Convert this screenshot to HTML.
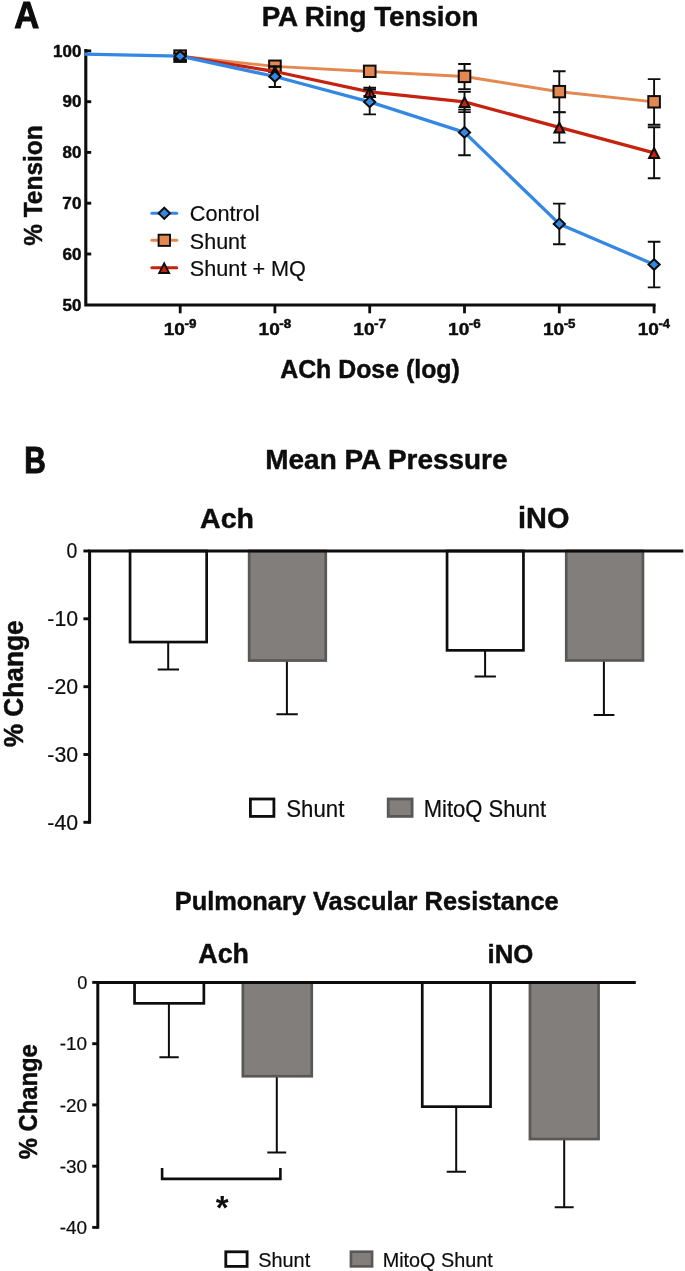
<!DOCTYPE html><html><head><meta charset="utf-8"><style>html,body{margin:0;padding:0;background:#fff}</style></head><body><svg width="685" height="1271" viewBox="0 0 685 1271" style="display:block;will-change:transform">
<rect width="685" height="1271" fill="#fff"/>
<g font-family="Liberation Sans, sans-serif" fill="#0d0d0d">
<text x="14.13" y="27.65" font-size="36.60" font-weight="bold" stroke="#0d0d0d" stroke-width="1.05" textLength="25.01" lengthAdjust="spacingAndGlyphs">A</text>
<text x="261.63" y="25.50" font-size="27.75" font-weight="bold" stroke="#0d0d0d" stroke-width="0.45" textLength="216.83" lengthAdjust="spacingAndGlyphs">PA Ring Tension</text>
<path d="M85.8 49.1 V305 H655.6" fill="none" stroke="#0d0d0d" stroke-width="3.1" stroke-linejoin="miter"/>
<path d="M85.8 50.9 H91.2" stroke="#0d0d0d" stroke-width="2.9"/>
<path d="M85.8 101.7 H91.2" stroke="#0d0d0d" stroke-width="2.9"/>
<path d="M85.8 152.4 H91.2" stroke="#0d0d0d" stroke-width="2.9"/>
<path d="M85.8 203.2 H91.2" stroke="#0d0d0d" stroke-width="2.9"/>
<path d="M85.8 254.0 H91.2" stroke="#0d0d0d" stroke-width="2.9"/>
<text x="53.14" y="56.60" font-size="16.30" font-weight="bold" stroke="#0d0d0d" stroke-width="0.45" textLength="28.25" lengthAdjust="spacingAndGlyphs">100</text>
<text x="62.50" y="107.40" font-size="16.30" font-weight="bold" stroke="#0d0d0d" stroke-width="0.45" textLength="18.92" lengthAdjust="spacingAndGlyphs">90</text>
<text x="62.55" y="158.20" font-size="16.30" font-weight="bold" stroke="#0d0d0d" stroke-width="0.45" textLength="18.87" lengthAdjust="spacingAndGlyphs">80</text>
<text x="62.37" y="209.00" font-size="16.30" font-weight="bold" stroke="#0d0d0d" stroke-width="0.45" textLength="19.05" lengthAdjust="spacingAndGlyphs">70</text>
<text x="62.46" y="259.80" font-size="16.30" font-weight="bold" stroke="#0d0d0d" stroke-width="0.45" textLength="18.96" lengthAdjust="spacingAndGlyphs">60</text>
<text x="62.59" y="310.60" font-size="16.30" font-weight="bold" stroke="#0d0d0d" stroke-width="0.45" textLength="18.82" lengthAdjust="spacingAndGlyphs">50</text>
<path d="M180.2 305 V313.3" stroke="#0d0d0d" stroke-width="2.8"/>
<text x="163.76" y="335.20" font-size="17.20" font-weight="bold" stroke="#0d0d0d" stroke-width="0.45" textLength="21.20" lengthAdjust="spacingAndGlyphs">10</text>
<text x="184.51" y="328.40" font-size="12.00" font-weight="bold" stroke="#0d0d0d" stroke-width="0.45" textLength="11.93" lengthAdjust="spacingAndGlyphs">-9</text>
<path d="M274.9 305 V313.3" stroke="#0d0d0d" stroke-width="2.8"/>
<text x="258.55" y="335.20" font-size="17.20" font-weight="bold" stroke="#0d0d0d" stroke-width="0.45" textLength="21.20" lengthAdjust="spacingAndGlyphs">10</text>
<text x="279.31" y="328.40" font-size="12.00" font-weight="bold" stroke="#0d0d0d" stroke-width="0.45" textLength="11.86" lengthAdjust="spacingAndGlyphs">-8</text>
<path d="M369.7 305 V313.3" stroke="#0d0d0d" stroke-width="2.8"/>
<text x="353.34" y="335.20" font-size="17.20" font-weight="bold" stroke="#0d0d0d" stroke-width="0.45" textLength="21.20" lengthAdjust="spacingAndGlyphs">10</text>
<text x="374.09" y="328.40" font-size="12.00" font-weight="bold" stroke="#0d0d0d" stroke-width="0.45" textLength="12.04" lengthAdjust="spacingAndGlyphs">-7</text>
<path d="M464.5 305 V313.3" stroke="#0d0d0d" stroke-width="2.8"/>
<text x="448.13" y="335.20" font-size="17.20" font-weight="bold" stroke="#0d0d0d" stroke-width="0.45" textLength="21.20" lengthAdjust="spacingAndGlyphs">10</text>
<text x="468.88" y="328.40" font-size="12.00" font-weight="bold" stroke="#0d0d0d" stroke-width="0.45" textLength="11.93" lengthAdjust="spacingAndGlyphs">-6</text>
<path d="M559.3 305 V313.3" stroke="#0d0d0d" stroke-width="2.8"/>
<text x="542.92" y="335.20" font-size="17.20" font-weight="bold" stroke="#0d0d0d" stroke-width="0.45" textLength="21.20" lengthAdjust="spacingAndGlyphs">10</text>
<text x="563.68" y="328.40" font-size="12.00" font-weight="bold" stroke="#0d0d0d" stroke-width="0.45" textLength="11.82" lengthAdjust="spacingAndGlyphs">-5</text>
<path d="M654.1 305 V313.3" stroke="#0d0d0d" stroke-width="2.8"/>
<text x="637.71" y="335.20" font-size="17.20" font-weight="bold" stroke="#0d0d0d" stroke-width="0.45" textLength="21.20" lengthAdjust="spacingAndGlyphs">10</text>
<text x="658.48" y="328.40" font-size="12.00" font-weight="bold" stroke="#0d0d0d" stroke-width="0.45" textLength="11.50" lengthAdjust="spacingAndGlyphs">-4</text>
<text transform="translate(42.00,245.20) rotate(-90)" x="-0.61" y="0" font-size="25.60" font-weight="bold" stroke="#0d0d0d" stroke-width="0.45" textLength="120.51" lengthAdjust="spacingAndGlyphs">% Tension</text>
<text x="280.18" y="378.30" font-size="24.88" font-weight="bold" stroke="#0d0d0d" stroke-width="0.45" textLength="179.65" lengthAdjust="spacingAndGlyphs">ACh Dose (log)</text>
<path d="M180.2 53.7 V58.8 M173.8 53.7 h12.6 M173.8 58.8 h12.6" stroke="#0d0d0d" stroke-width="1.9" fill="none"/>
<path d="M274.9 61.8 V71.0 M268.6 61.8 h12.6 M268.6 71.0 h12.6" stroke="#0d0d0d" stroke-width="1.9" fill="none"/>
<path d="M369.7 67.4 V75.5 M363.4 67.4 h12.6 M363.4 75.5 h12.6" stroke="#0d0d0d" stroke-width="1.9" fill="none"/>
<path d="M464.5 64.0 V89.1 M458.2 64.0 h12.6 M458.2 89.1 h12.6" stroke="#0d0d0d" stroke-width="1.9" fill="none"/>
<path d="M559.3 71.2 V112.4 M553.0 71.2 h12.6 M553.0 112.4 h12.6" stroke="#0d0d0d" stroke-width="1.9" fill="none"/>
<path d="M654.1 79.1 V124.8 M647.8 79.1 h12.6 M647.8 124.8 h12.6" stroke="#0d0d0d" stroke-width="1.9" fill="none"/>
<path d="M180.2 56.2 L180.2 56.2 L274.9 66.4 L369.7 71.5 L464.5 76.5 L559.3 91.8 L654.1 101.9" fill="none" stroke="#e38850" stroke-width="2.9" stroke-linejoin="round"/>
<rect x="174.35" y="50.38" width="11.6" height="11.4" fill="#e38850" stroke="#0d0d0d" stroke-width="2.0"/>
<rect x="269.14" y="60.54" width="11.6" height="11.4" fill="#e38850" stroke="#0d0d0d" stroke-width="2.0"/>
<rect x="363.93" y="65.62" width="11.6" height="11.4" fill="#e38850" stroke="#0d0d0d" stroke-width="2.0"/>
<rect x="458.72" y="70.70" width="11.6" height="11.4" fill="#e38850" stroke="#0d0d0d" stroke-width="2.0"/>
<rect x="553.51" y="85.94" width="11.6" height="11.4" fill="#e38850" stroke="#0d0d0d" stroke-width="2.0"/>
<rect x="648.30" y="96.10" width="11.6" height="11.4" fill="#e38850" stroke="#0d0d0d" stroke-width="2.0"/>
<path d="M180.2 53.7 V58.8 M173.8 53.7 h12.6 M173.8 58.8 h12.6" stroke="#0d0d0d" stroke-width="1.9" fill="none"/>
<path d="M274.9 66.9 V76.0 M268.6 66.9 h12.6 M268.6 76.0 h12.6" stroke="#0d0d0d" stroke-width="1.9" fill="none"/>
<path d="M369.7 87.7 V95.9 M363.4 87.7 h12.6 M363.4 95.9 h12.6" stroke="#0d0d0d" stroke-width="1.9" fill="none"/>
<path d="M464.5 91.8 V112.1 M458.2 91.8 h12.6 M458.2 112.1 h12.6" stroke="#0d0d0d" stroke-width="1.9" fill="none"/>
<path d="M559.3 112.1 V142.6 M553.0 112.1 h12.6 M553.0 142.6 h12.6" stroke="#0d0d0d" stroke-width="1.9" fill="none"/>
<path d="M654.1 127.3 V178.2 M647.8 127.3 h12.6 M647.8 178.2 h12.6" stroke="#0d0d0d" stroke-width="1.9" fill="none"/>
<path d="M180.2 56.2 L180.2 56.2 L274.9 71.5 L369.7 91.8 L464.5 101.9 L559.3 127.3 L654.1 152.8" fill="none" stroke="#c5230f" stroke-width="3.3" stroke-linejoin="round"/>
<path d="M180.2 51.7 L185.1 61.4 H175.2 Z" fill="#c5230f" stroke="#0d0d0d" stroke-width="2.0" stroke-linejoin="miter"/>
<path d="M274.9 67.0 L279.9 76.6 H270.0 Z" fill="#c5230f" stroke="#0d0d0d" stroke-width="2.0" stroke-linejoin="miter"/>
<path d="M369.7 87.3 L374.7 96.9 H364.8 Z" fill="#c5230f" stroke="#0d0d0d" stroke-width="2.0" stroke-linejoin="miter"/>
<path d="M464.5 97.4 L469.5 107.1 H459.6 Z" fill="#c5230f" stroke="#0d0d0d" stroke-width="2.0" stroke-linejoin="miter"/>
<path d="M559.3 122.8 L564.3 132.5 H554.4 Z" fill="#c5230f" stroke="#0d0d0d" stroke-width="2.0" stroke-linejoin="miter"/>
<path d="M654.1 148.2 L659.1 157.9 H649.1 Z" fill="#c5230f" stroke="#0d0d0d" stroke-width="2.0" stroke-linejoin="miter"/>
<path d="M180.2 53.7 V58.8 M173.8 53.7 h12.6 M173.8 58.8 h12.6" stroke="#0d0d0d" stroke-width="1.9" fill="none"/>
<path d="M274.9 66.1 V87.0 M268.6 66.1 h12.6 M268.6 87.0 h12.6" stroke="#0d0d0d" stroke-width="1.9" fill="none"/>
<path d="M369.7 89.5 V114.4 M363.4 89.5 h12.6 M363.4 114.4 h12.6" stroke="#0d0d0d" stroke-width="1.9" fill="none"/>
<path d="M464.5 109.6 V155.3 M458.2 109.6 h12.6 M458.2 155.3 h12.6" stroke="#0d0d0d" stroke-width="1.9" fill="none"/>
<path d="M559.3 203.6 V244.2 M553.0 203.6 h12.6 M553.0 244.2 h12.6" stroke="#0d0d0d" stroke-width="1.9" fill="none"/>
<path d="M654.1 241.7 V287.4 M647.8 241.7 h12.6 M647.8 287.4 h12.6" stroke="#0d0d0d" stroke-width="1.9" fill="none"/>
<path d="M84.2 54.2 L180.2 56.2 L274.9 76.5 L369.7 101.9 L464.5 132.4 L559.3 223.9 L654.1 264.5" fill="none" stroke="#3488e3" stroke-width="3.3" stroke-linejoin="round"/>
<path d="M180.2 50.9 L185.8 56.2 L180.2 61.5 L174.6 56.2 Z" fill="#3488e3" stroke="#0d0d0d" stroke-width="2.0"/>
<path d="M274.9 71.2 L280.5 76.5 L274.9 81.8 L269.3 76.5 Z" fill="#3488e3" stroke="#0d0d0d" stroke-width="2.0"/>
<path d="M369.7 96.6 L375.3 101.9 L369.7 107.2 L364.1 101.9 Z" fill="#3488e3" stroke="#0d0d0d" stroke-width="2.0"/>
<path d="M464.5 127.1 L470.1 132.4 L464.5 137.7 L458.9 132.4 Z" fill="#3488e3" stroke="#0d0d0d" stroke-width="2.0"/>
<path d="M559.3 218.6 L564.9 223.9 L559.3 229.2 L553.7 223.9 Z" fill="#3488e3" stroke="#0d0d0d" stroke-width="2.0"/>
<path d="M654.1 259.2 L659.7 264.5 L654.1 269.8 L648.5 264.5 Z" fill="#3488e3" stroke="#0d0d0d" stroke-width="2.0"/>
<path d="M151.9 213.3 H176.7" stroke="#3488e3" stroke-width="3.1" stroke-linecap="round"/>
<path d="M164.3 207.70000000000002 L170.0 213.3 L164.3 218.9 L158.60000000000002 213.3 Z" fill="#3488e3" stroke="#0d0d0d" stroke-width="1.9"/>
<text x="189.72" y="221.45" font-size="22.50" stroke="#0d0d0d" stroke-width="0.20" textLength="69.92" lengthAdjust="spacingAndGlyphs">Control</text>
<path d="M151.9 240.3 H176.7" stroke="#e38850" stroke-width="3.1" stroke-linecap="round"/>
<rect x="158.60000000000002" y="234.70000000000002" width="11.4" height="11.2" fill="#e38850" stroke="#0d0d0d" stroke-width="1.9"/>
<text x="189.83" y="248.55" font-size="22.50" stroke="#0d0d0d" stroke-width="0.20" textLength="56.25" lengthAdjust="spacingAndGlyphs">Shunt</text>
<path d="M151.9 267.7 H176.7" stroke="#c5230f" stroke-width="3.1" stroke-linecap="round"/>
<path d="M164.20000000000002 263.35 L169.15 273.00 H159.25 Z" fill="#c5230f" stroke="#0d0d0d" stroke-width="1.9"/>
<text x="189.83" y="275.85" font-size="22.50" stroke="#0d0d0d" stroke-width="0.20" textLength="116.13" lengthAdjust="spacingAndGlyphs">Shunt + MQ</text>
<text x="24.19" y="473.10" font-size="36.90" font-weight="bold" stroke="#0d0d0d" stroke-width="1.05" textLength="21.55" lengthAdjust="spacingAndGlyphs">B</text>
<text x="265.31" y="468.80" font-size="27.93" font-weight="bold" stroke="#0d0d0d" stroke-width="0.45" textLength="242.21" lengthAdjust="spacingAndGlyphs">Mean PA Pressure</text>
<text x="200.09" y="527.70" font-size="28.52" font-weight="bold" stroke="#0d0d0d" stroke-width="0.45" textLength="53.87" lengthAdjust="spacingAndGlyphs">Ach</text>
<text x="518.08" y="527.70" font-size="28.89" font-weight="bold" stroke="#0d0d0d" stroke-width="0.45" textLength="51.36" lengthAdjust="spacingAndGlyphs">iNO</text>
<path d="M168.2 642.4 V669.6 M157.7 669.6 H179.0" stroke="#0d0d0d" stroke-width="2.0" fill="none"/>
<rect x="130.05" y="551.0" width="76.60" height="91.05" fill="#fff" stroke="#0d0d0d" stroke-width="2.7"/>
<path d="M286.9 660.9 V714.2 M276.4 714.2 H297.8" stroke="#0d0d0d" stroke-width="2.0" fill="none"/>
<rect x="249.15" y="551.0" width="76.60" height="109.55" fill="#827e7b" stroke="#5a5857" stroke-width="2.7"/>
<path d="M485.1 650.7 V676.6 M474.6 676.6 H495.9" stroke="#0d0d0d" stroke-width="2.0" fill="none"/>
<rect x="447.05" y="551.0" width="76.40" height="99.35" fill="#fff" stroke="#0d0d0d" stroke-width="2.7"/>
<path d="M603.9 660.8 V715.0 M593.7 715.0 H614.4" stroke="#0d0d0d" stroke-width="2.0" fill="none"/>
<rect x="566.25" y="551.0" width="76.70" height="109.45" fill="#827e7b" stroke="#5a5857" stroke-width="2.7"/>
<path d="M89.6 823.7 V551.0 H683.3" fill="none" stroke="#0d0d0d" stroke-width="3.0"/>
<path d="M83.39999999999999 551.0 H89.6" stroke="#0d0d0d" stroke-width="2.9"/>
<path d="M83.39999999999999 618.8 H89.6" stroke="#0d0d0d" stroke-width="2.9"/>
<path d="M83.39999999999999 686.7 H89.6" stroke="#0d0d0d" stroke-width="2.9"/>
<path d="M83.39999999999999 754.5 H89.6" stroke="#0d0d0d" stroke-width="2.9"/>
<path d="M83.39999999999999 822.3 H89.6" stroke="#0d0d0d" stroke-width="2.9"/>
<text x="66.62" y="558.30" font-size="21.40" stroke="#0d0d0d" stroke-width="0.20" textLength="10.83" lengthAdjust="spacingAndGlyphs">0</text>
<text x="47.34" y="626.13" font-size="21.40" stroke="#0d0d0d" stroke-width="0.20" textLength="30.76" lengthAdjust="spacingAndGlyphs">-10</text>
<text x="47.34" y="693.96" font-size="21.40" stroke="#0d0d0d" stroke-width="0.20" textLength="30.76" lengthAdjust="spacingAndGlyphs">-20</text>
<text x="47.34" y="761.79" font-size="21.40" stroke="#0d0d0d" stroke-width="0.20" textLength="30.76" lengthAdjust="spacingAndGlyphs">-30</text>
<text x="47.34" y="829.62" font-size="21.40" stroke="#0d0d0d" stroke-width="0.20" textLength="30.76" lengthAdjust="spacingAndGlyphs">-40</text>
<text transform="translate(22.60,746.70) rotate(-90)" x="-0.66" y="0" font-size="27.20" font-weight="bold" stroke="#0d0d0d" stroke-width="0.45" textLength="127.05" lengthAdjust="spacingAndGlyphs">% Change</text>
<rect x="250.4" y="799.0" width="23.5" height="17.4" fill="#fff" stroke="#0d0d0d" stroke-width="2.8"/>
<text x="286.30" y="816.50" font-size="23.40" stroke="#0d0d0d" stroke-width="0.20" textLength="58.09" lengthAdjust="spacingAndGlyphs">Shunt</text>
<rect x="388.2" y="799.0" width="23.9" height="17.4" fill="#827e7b" stroke="#5a5857" stroke-width="2.8"/>
<text x="423.78" y="816.50" font-size="23.40" stroke="#0d0d0d" stroke-width="0.20" textLength="122.40" lengthAdjust="spacingAndGlyphs">MitoQ Shunt</text>
<text x="174.69" y="909.80" font-size="25.40" font-weight="bold" stroke="#0d0d0d" stroke-width="0.45" textLength="383.98" lengthAdjust="spacingAndGlyphs">Pulmonary Vascular Resistance</text>
<text x="198.33" y="962.50" font-size="26.80" font-weight="bold" stroke="#0d0d0d" stroke-width="0.45" textLength="50.62" lengthAdjust="spacingAndGlyphs">Ach</text>
<text x="487.50" y="962.50" font-size="25.77" font-weight="bold" stroke="#0d0d0d" stroke-width="0.45" textLength="45.81" lengthAdjust="spacingAndGlyphs">iNO</text>
<path d="M168.9 1003.7 V1057.2 M159.4 1057.2 H178.7" stroke="#0d0d0d" stroke-width="2.0" fill="none"/>
<rect x="134.55" y="982.4" width="69.30" height="20.95" fill="#fff" stroke="#0d0d0d" stroke-width="2.7"/>
<path d="M276.8 1076.6 V1152.6 M267.3 1152.6 H286.2" stroke="#0d0d0d" stroke-width="2.0" fill="none"/>
<rect x="242.85" y="982.4" width="68.90" height="93.85" fill="#827e7b" stroke="#5a5857" stroke-width="2.7"/>
<path d="M456.2 1107.0 V1171.8 M446.7 1171.8 H466.0" stroke="#0d0d0d" stroke-width="2.0" fill="none"/>
<rect x="422.25" y="982.4" width="68.30" height="124.25" fill="#fff" stroke="#0d0d0d" stroke-width="2.7"/>
<path d="M564.2 1139.4 V1207.2 M554.7 1207.2 H573.7" stroke="#0d0d0d" stroke-width="2.0" fill="none"/>
<rect x="529.95" y="982.4" width="68.60" height="156.65" fill="#827e7b" stroke="#5a5857" stroke-width="2.7"/>
<path d="M97.8 1228.8 V982.4 H635.8" fill="none" stroke="#0d0d0d" stroke-width="3.0"/>
<path d="M92.2 982.4 H97.8" stroke="#0d0d0d" stroke-width="2.9"/>
<path d="M92.2 1043.7 H97.8" stroke="#0d0d0d" stroke-width="2.9"/>
<path d="M92.2 1104.9 H97.8" stroke="#0d0d0d" stroke-width="2.9"/>
<path d="M92.2 1166.2 H97.8" stroke="#0d0d0d" stroke-width="2.9"/>
<path d="M92.2 1227.4 H97.8" stroke="#0d0d0d" stroke-width="2.9"/>
<text x="77.27" y="989.00" font-size="18.80" stroke="#0d0d0d" stroke-width="0.20" textLength="10.13" lengthAdjust="spacingAndGlyphs">0</text>
<text x="59.65" y="1050.25" font-size="18.80" stroke="#0d0d0d" stroke-width="0.20" textLength="27.37" lengthAdjust="spacingAndGlyphs">-10</text>
<text x="59.65" y="1111.50" font-size="18.80" stroke="#0d0d0d" stroke-width="0.20" textLength="27.37" lengthAdjust="spacingAndGlyphs">-20</text>
<text x="59.65" y="1172.75" font-size="18.80" stroke="#0d0d0d" stroke-width="0.20" textLength="27.37" lengthAdjust="spacingAndGlyphs">-30</text>
<text x="59.65" y="1234.00" font-size="18.80" stroke="#0d0d0d" stroke-width="0.20" textLength="27.37" lengthAdjust="spacingAndGlyphs">-40</text>
<text transform="translate(37.00,1158.70) rotate(-90)" x="-0.60" y="0" font-size="25.20" font-weight="bold" stroke="#0d0d0d" stroke-width="0.45" textLength="115.11" lengthAdjust="spacingAndGlyphs">% Change</text>
<rect x="225.8" y="1251.8" width="21.3" height="14.6" fill="#fff" stroke="#0d0d0d" stroke-width="2.8"/>
<text x="258.31" y="1267.00" font-size="20.60" stroke="#0d0d0d" stroke-width="0.20" textLength="51.86" lengthAdjust="spacingAndGlyphs">Shunt</text>
<rect x="350.9" y="1251.7" width="21.2" height="14.7" fill="#827e7b" stroke="#5a5857" stroke-width="2.6"/>
<text x="382.67" y="1267.00" font-size="20.60" stroke="#0d0d0d" stroke-width="0.20" textLength="110.10" lengthAdjust="spacingAndGlyphs">MitoQ Shunt</text>
<path d="M162.1 1168 V1178.9 H280.4 V1168" fill="none" stroke="#0d0d0d" stroke-width="2.6"/>
<text x="222.1" y="1218.5" font-size="33" font-weight="bold" text-anchor="middle">*</text>
</g></svg></body></html>
